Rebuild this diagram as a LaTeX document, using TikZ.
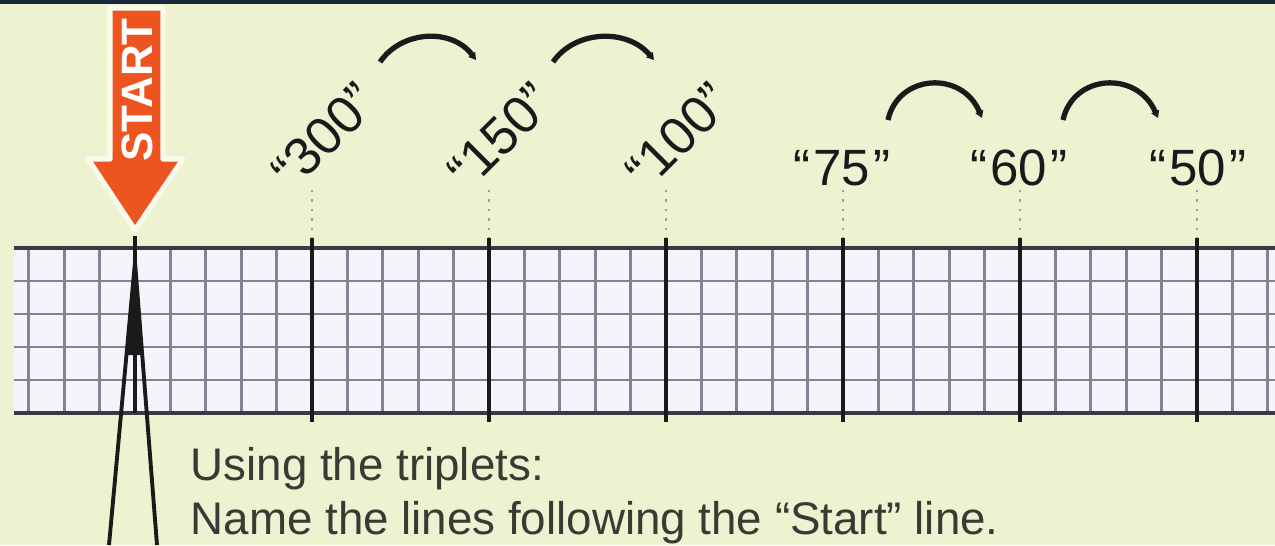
\documentclass[tikz,border=0pt]{standalone}
\usepackage{fontspec}
\setmainfont{Liberation Sans}
\usepackage{xcolor}
\usepackage{tikz}
\usetikzlibrary{arrows.meta}
\definecolor{bg}{HTML}{EEF2D0}
\definecolor{band}{HTML}{16283A}
\definecolor{paper}{HTML}{F6F4FA}
\definecolor{fine}{HTML}{858295}
\definecolor{rim}{HTML}{3A3A42}
\definecolor{go}{HTML}{EE5420}
\definecolor{ink}{HTML}{1A1A1A}
\definecolor{note}{HTML}{3A3A34}

\begin{document}
\begin{tikzpicture}[x=0.01cm, y=-0.01cm,
  tag/.style={font=\fontsize{14.5}{16}\selectfont, text=ink, inner sep=0pt},
  slant/.style={tag, font=\fontsize{15}{17}\selectfont, rotate=45},
  guide/.style={draw=gray!75, dotted, line width=0.7pt},
  bar/.style={draw=ink, line width=1.1pt},
  hop/.style={draw=ink, line width=1.5pt, -{Triangle[length=2pt,width=2.3pt]}},
  note/.style={anchor=base west, inner sep=0pt, text=note, font=\fontsize{13}{15}\selectfont}]
  % page
  \fill[bg] (0,0) rectangle (1275,545);
  \useasboundingbox (0,0) rectangle (1275,545);
  \fill[band] (0,0) rectangle (1275,4);

  % graph paper
  \fill[paper] (14,248) rectangle (1275,413);
  \foreach \k in {-3,...,32}
    \draw[fine, line width=0.75pt] ({135+35.4*\k},248) -- ({135+35.4*\k},413);
  \foreach \y in {281,314,347,380}
    \draw[fine, line width=0.75pt] (14,\y) -- (1275,\y);
  \draw[rim, line width=1.2pt] (14,248) -- (1275,248) (14,413) -- (1275,413);

  % named lines
  \foreach \n/\x in {1/312,2/489,3/666,4/843,5/1020,6/1197} {
    \coordinate (tip\n) at (\x,190);
    \coordinate (top\n) at (\x,238);
    \coordinate (bot\n) at (\x,422);
    \draw[guide] (tip\n) -- (top\n);
    \draw[bar] (top\n) -- (bot\n);
  }
  \node[slant] (l300) at (324,136) {“300”};
  \node[slant] (l150) at (500,136) {“150”};
  \node[slant] (l100) at (678,136) {“100”};
  \node[tag, anchor=base] (l75) at (842,185) {“\kern1pt75\kern1pt”};
  \node[tag, anchor=base] (l60) at (1019,185) {“\kern1pt60\kern1pt”};
  \node[tag, anchor=base] (l50) at (1198,185) {“\kern1pt50\kern1pt”};

  % hops between triplets
  \coordinate (hop1a) at (380,62);  \coordinate (hop1b) at (476,60);
  \coordinate (hop2a) at (553,62);  \coordinate (hop2b) at (654,60);
  \coordinate (hop3a) at (888,120); \coordinate (hop3b) at (982,118);
  \coordinate (hop4a) at (1063,120); \coordinate (hop4b) at (1158,118);
  \draw[hop] (hop1a) .. controls (402,30) and (452,28) .. (hop1b);
  \draw[hop] (hop2a) .. controls (575,30) and (627,28) .. (hop2b);
  \draw[hop] (hop3a) .. controls (898,74) and (962,70) .. (hop3b);
  \draw[hop] (hop4a) .. controls (1073,74) and (1137,70) .. (hop4b);

  % start marker
  \filldraw[fill=go, draw=white!60!bg, line width=1.5pt, line join=round]
    (110,8) -- (163,8) -- (163,159) -- (183,159) -- (135,230) -- (88,159) -- (110,159) -- cycle;
  \node[rotate=90, inner sep=0pt, text=white, font=\fontsize{12.5}{14}\selectfont\bfseries] (start) at (137,90) {START};
  \coordinate (s0) at (135,236);
  \coordinate (s1) at (135,413);
  \coordinate (apex) at (135,262);
  \coordinate (legL) at (109,545);
  \coordinate (legR) at (157,545);
  \draw[bar, line width=1.2pt] (s0) -- (s1);
  \fill[ink] (apex) -- (128,355) -- (142,355) -- cycle;
  \draw[bar] (apex) -- (legL) (apex) -- (legR);

  % task
  \node[note] (use) at (190,480) {Using the triplets:};
  \node[note] (rule) at (190,534) {Name the lines following the “Start” line.};
\end{tikzpicture}
\end{document}
